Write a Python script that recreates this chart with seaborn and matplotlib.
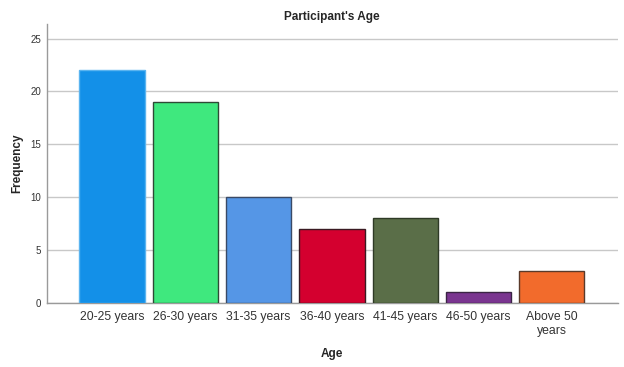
import matplotlib
matplotlib.use("Agg")
import matplotlib.pyplot as plt
import pandas as pd
import seaborn as sns

# Participant's age distribution
age_groups = ["20-25 years", "26-30 years", "31-35 years", "36-40 years",
              "41-45 years", "46-50 years", "Above 50\nyears"]
frequency = [22, 19, 10, 7, 8, 1, 3]
bar_colors = ["#1390E8", "#3FE87E", "#5596E6", "#D4002F", "#5A6E48", "#7A3590", "#F26B2C"]
edge_colors = ["#5AB4F0", "#2E4A36", "#3A4A66", "#3A1A22", "#2E3A26", "#3A2444", "#5A3A2A"]

df = pd.DataFrame({"age": age_groups, "freq": frequency})

sns.set_theme(style="white")
plt.rcParams["font.family"] = ["Liberation Sans", "DejaVu Sans"]

fig, ax = plt.subplots(figsize=(6.24, 3.67), dpi=100)
fig.subplots_adjust(left=0.075, right=0.99, top=0.935, bottom=0.175)

sns.barplot(data=df, x="age", y="freq", hue="age", palette=bar_colors,
            saturation=1, legend=False, width=0.89, ax=ax, zorder=3)
for patch, ec in zip(ax.patches, edge_colors):
    patch.set_edgecolor(ec)
    patch.set_linewidth(1.0)

ax.set_ylim(0, 26.4)
ax.set_xlim(-0.89, 6.9)
ax.set_yticks([0, 5, 10, 15, 20, 25])
ax.yaxis.grid(True, color="#C8C8C8", lw=1.0, zorder=0)
ax.tick_params(axis="both", length=0, colors="#333333")
ax.tick_params(axis="x", labelsize=8.8, pad=6)
ax.tick_params(axis="y", labelsize=7, pad=4)
for s in ["top", "right"]:
    ax.spines[s].set_visible(False)
for s in ["left", "bottom"]:
    ax.spines[s].set_color("#9A9A9A")
    ax.spines[s].set_linewidth(1.0)

ax.set_title("Participant's Age", fontsize=8.5, fontweight="bold", pad=3)
ax.set_xlabel("Age", fontsize=8.5, fontweight="bold", labelpad=8)
ax.set_ylabel("Frequency", fontsize=8.5, fontweight="bold", labelpad=5)

fig.savefig("out.png", dpi=100)
